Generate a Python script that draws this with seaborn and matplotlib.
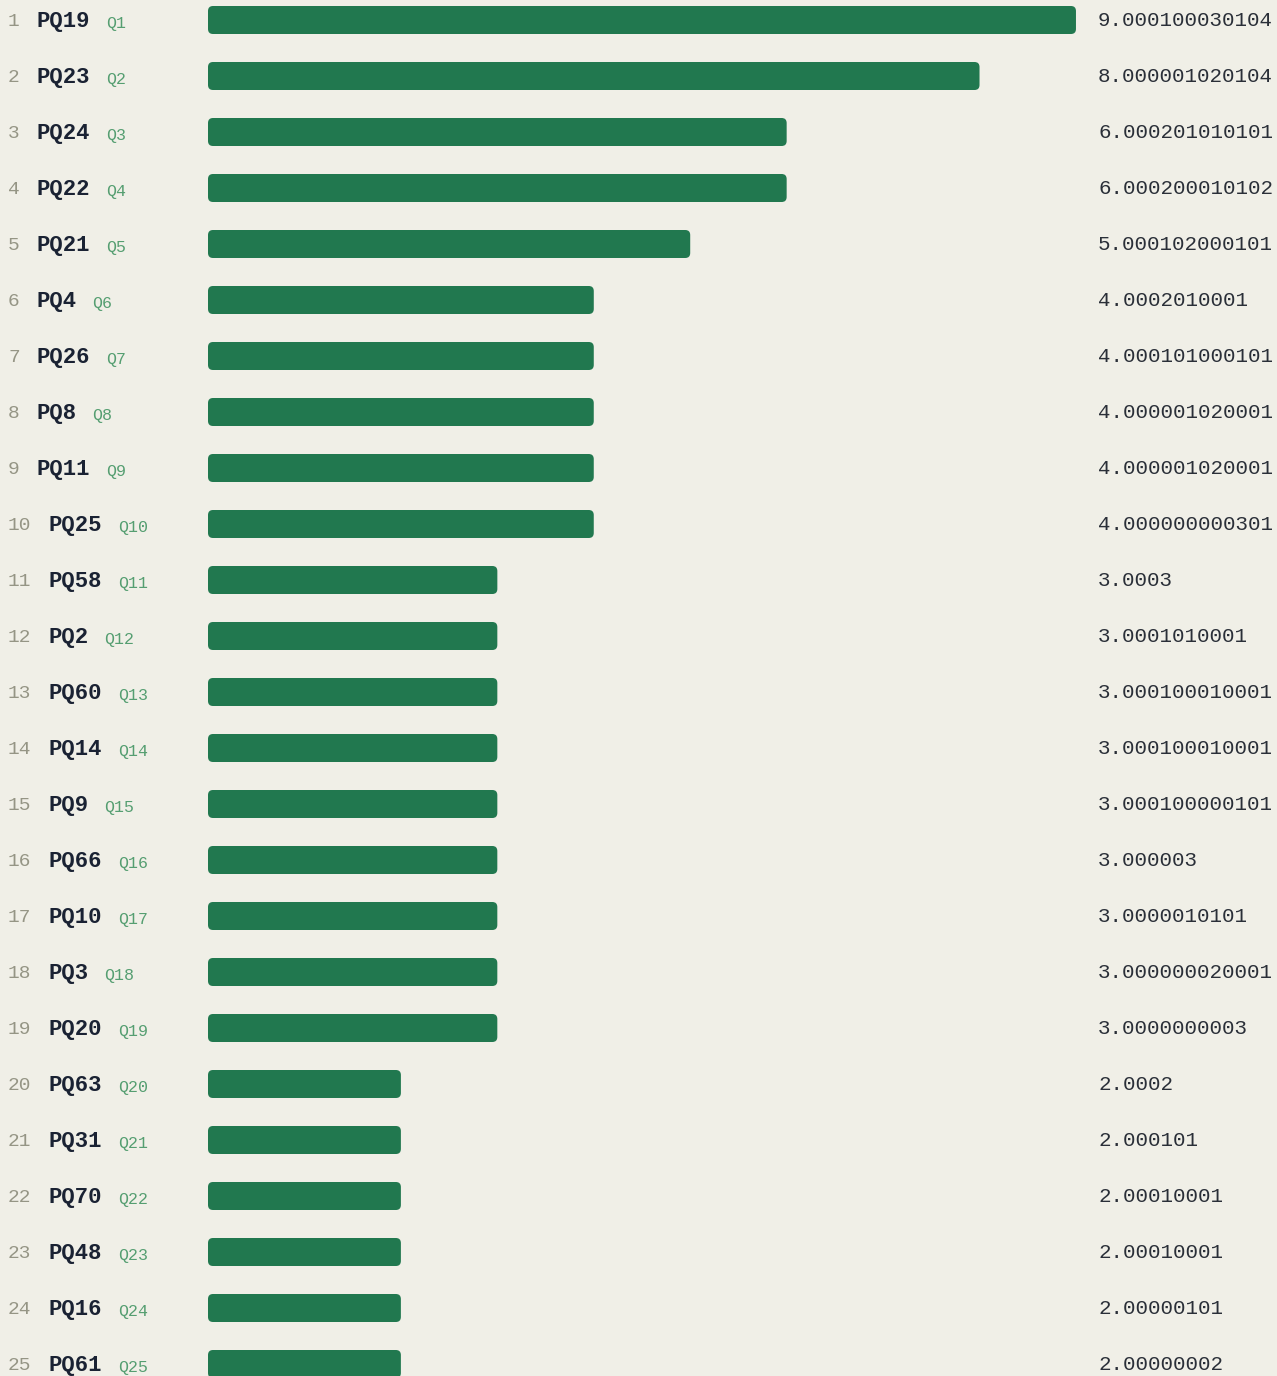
import pandas as pd
import matplotlib
matplotlib.use('Agg')
import matplotlib.pyplot as plt
import seaborn as sns
from matplotlib.patches import FancyBboxPatch
import matplotlib.transforms as mtransforms

# chart data
names = ['PQ19', 'PQ23', 'PQ24', 'PQ22', 'PQ21', 'PQ4', 'PQ26', 'PQ8', 'PQ11', 'PQ25',
         'PQ58', 'PQ2', 'PQ60', 'PQ14', 'PQ9', 'PQ66', 'PQ10', 'PQ3', 'PQ20', 'PQ63',
         'PQ31', 'PQ70', 'PQ48', 'PQ16', 'PQ61']
qlabels = ['Q%d' % (i + 1) for i in range(len(names))]
value_labels = ['9.000100030104', '8.000001020104', '6.000201010101', '6.000200010102',
                '5.000102000101', '4.0002010001', '4.000101000101', '4.000001020001',
                '4.000001020001', '4.000000000301', '3.0003', '3.0001010001',
                '3.000100010001', '3.000100010001', '3.000100000101', '3.000003',
                '3.0000010101', '3.000000020001', '3.0000000003', '2.0002',
                '2.000101', '2.00010001', '2.00010001', '2.00000101', '2.00000002']
values = [float(v) for v in value_labels]

BG = '#f0efe7'
BAR = '#21784f'
W, H, DPI = 1277, 1376, 100
PX_PER_UNIT = 96.44
ROW = 56.0
X0 = 208.0

df = pd.DataFrame({'name': names, 'value': values})

sns.set_theme(style='white')
plt.rcParams['font.family'] = ['Liberation Mono', 'DejaVu Sans Mono']

fig = plt.figure(figsize=(W / DPI, H / DPI), dpi=DPI, facecolor=BG)
ax = fig.add_axes([0, 0, 1, 1])
ax.set_facecolor(BG)

sns.barplot(data=df, x='value', y='name', orient='h', color=BAR, width=0.5,
            saturation=1, ax=ax)

ax.set_xlim(-X0 / PX_PER_UNIT, (W - X0) / PX_PER_UNIT)
ax.set_ylim((H - 20) / ROW, -20 / ROW)
ax.axis('off')

# rounded bar ends
aspect = (1 / ROW) / (1 / PX_PER_UNIT)
for p in list(ax.patches):
    x, y = p.get_x(), p.get_y()
    w, h = p.get_width(), p.get_height()
    rb = FancyBboxPatch((x, y), w, h,
                        boxstyle='round,pad=0,rounding_size=%f' % (5 / PX_PER_UNIT),
                        mutation_aspect=aspect, fc=BAR, ec='none')
    p.remove()
    ax.add_patch(rb)

# labels: x in figure fraction, y in data rows
trans = mtransforms.blended_transform_factory(fig.transFigure, ax.transData)

name_adv = 13.5
dy = 1.5 / ROW
for i, (nm, q, vl) in enumerate(zip(names, qlabels, value_labels)):
    rank = str(i + 1)
    ax.text(8 / W, i + dy, rank, transform=trans, ha='left', va='center',
            fontsize=14, color='#959585')
    nx = 36 if len(rank) == 1 else 48
    ax.text(nx / W, i + dy, nm, transform=trans, ha='left', va='center',
            fontsize=16, fontweight='bold', color='#1a2233')
    qx = nx + len(nm) * name_adv + 16
    ax.text(qx / W, i + dy + 0.03, q, transform=trans, ha='left', va='center',
            fontsize=12, color='#559e71')
    ax.text(1098 / W, i + dy * 0.6, vl, transform=trans, ha='left', va='center',
            fontsize=15, color='#2a2f38')

fig.savefig('out.png', dpi=DPI, facecolor=BG)
